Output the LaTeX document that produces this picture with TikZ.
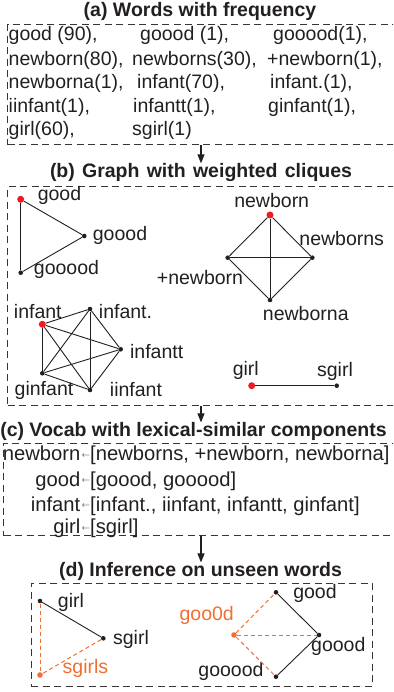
\documentclass[tikz,border=0pt]{standalone}
\usepackage{fontspec}
\setmainfont{Liberation Sans}
\usetikzlibrary{arrows.meta}
\definecolor{dotred}{RGB}{237,28,36}
\definecolor{infor}{RGB}{240,110,50}
\definecolor{ink}{RGB}{35,31,32}
\begin{document}
\begin{tikzpicture}[x=1pt,y=-1pt,
  title/.style={font=\fontsize{19.5}{23}\selectfont\bfseries, inner sep=0, text=ink},
  lbl/.style={font=\fontsize{19.5}{23}\selectfont, inner sep=0, text=ink},
  clbl/.style={font=\fontsize{20.2}{24}\selectfont, inner sep=0, text=ink},
  olbl/.style={lbl, text=infor},
  box/.style={draw=ink!90, line width=1.1pt, dash pattern=on 7pt off 4.5pt, anchor=north west, inner sep=0},
  rdot/.style={circle, fill=dotred, inner sep=0, minimum size=7pt},
  bdot/.style={circle, fill=ink, inner sep=0, minimum size=4.6pt},
  odot/.style={circle, fill=infor, inner sep=0, minimum size=5.6pt},
  edge/.style={line width=0.9pt, draw=ink},
  oedge/.style={line width=1pt, draw=infor, dash pattern=on 4pt off 3pt},
  flow/.style={line width=1.1pt, draw=ink, -{Triangle[width=7pt,length=9pt]}}]
\useasboundingbox (0,0) rectangle (393,692);
\clip (0,0) rectangle (393,692);
\newcommand{\larr}{\hspace{1pt}\raisebox{3.5pt}{\fontsize{8.5}{8.5}\selectfont$\leftarrow$}}

% ---------- (a) ----------
\node[title] (ta) at (200,11) {(a) Words with frequency};
\node[box, minimum width=389pt, minimum height=119.7pt] (boxa) at (7,24.3) {};
\node[lbl, anchor=west] (a11) at (8.5,35) {good (90),};
\node[lbl, anchor=west] (a12) at (140,35) {goood (1),};
\node[lbl, anchor=west] (a13) at (273,35) {gooood(1),};
\node[lbl, anchor=west] (a21) at (8.5,60) {newborn(80),};
\node[lbl, anchor=west] (a22) at (132,60) {newborns(30),};
\node[lbl, anchor=west] (a23) at (267,60) {+newborn(1),};
\node[lbl, anchor=west] (a31) at (8.5,83) {newborna(1),};
\node[lbl, anchor=west] (a32) at (137,83) {infant(70),};
\node[lbl, anchor=west] (a33) at (270,83) {infant.(1),};
\node[lbl, anchor=west] (a41) at (8.5,107) {iinfant(1),};
\node[lbl, anchor=west] (a42) at (133,107) {infantt(1),};
\node[lbl, anchor=west] (a43) at (268,107) {ginfant(1),};
\node[lbl, anchor=west] (a51) at (8.5,130) {girl(60),};
\node[lbl, anchor=west] (a52) at (132,130) {sgirl(1)};

% ---------- (b) ----------
\node[title] (tb) at (201,172.7) {\makebox[302pt][s]{(b) Graph with weighted cliques}};
\node[box, minimum width=389pt, minimum height=219pt] (boxb) at (7,186) {};

\node[rdot] (good) at (20.7,199.3) {};
\node[bdot] (goood) at (84.3,236) {};
\node[bdot] (gooood) at (20.7,272.7) {};
\node[lbl] (lgood) at (59.5,195) {good};
\node[lbl] (lgoood) at (120,235) {goood};
\node[lbl] (lgooood) at (66.5,269) {gooood};
\draw[edge] (good) -- (goood);
\draw[edge] (good) -- (gooood);
\draw[edge] (goood) -- (gooood);

\node[rdot] (nb) at (270,215) {};
\node[bdot] (nbs) at (312.3,257.7) {};
\node[bdot] (pnb) at (227.7,257.7) {};
\node[bdot] (nba) at (270,300) {};
\node[lbl] (lnb) at (271.7,200.7) {newborn};
\node[lbl] (lnbs) at (341.7,238.3) {newborns};
\node[lbl] (lpnb) at (200,277.3) {+newborn};
\node[lbl] (lnba) at (305.8,314) {newborna};
\draw[edge] (nb) -- (nbs);
\draw[edge] (nb) -- (pnb);
\draw[edge] (nb) -- (nba);
\draw[edge] (nbs) -- (pnb);
\draw[edge] (nbs) -- (nba);
\draw[edge] (pnb) -- (nba);

\node[rdot] (inf) at (42.3,324.3) {};
\node[bdot] (infd) at (90,309) {};
\node[bdot] (inftt) at (120.7,349.3) {};
\node[bdot] (ginf) at (42.3,373.3) {};
\node[bdot] (iinf) at (90,390) {};
\node[lbl] (linf) at (37.8,311.7) {infant};
\node[lbl] (linfd) at (125.5,311.7) {infant.};
\node[lbl] (linftt) at (156.7,351.7) {infantt};
\node[lbl] (lginf) at (44,390) {ginfant};
\node[lbl] (liinf) at (136,390) {iinfant};
\foreach \u/\v in {inf/infd, inf/inftt, inf/ginf, inf/iinf, infd/inftt, infd/ginf, infd/iinf, inftt/ginf, inftt/iinf, ginf/iinf}
  \draw[edge] (\u) -- (\v);

\node[rdot] (girl) at (251.7,385.7) {};
\node[bdot] (sgirl) at (336.7,385.7) {};
\node[lbl] (lgirl) at (245.8,370) {girl};
\node[lbl] (lsgirl) at (335,371.7) {sgirl};
\draw[edge] (girl) -- (sgirl);

% ---------- (c) ----------
\node[title] (tc) at (193.5,431.7) {(c) Vocab with lexical-similar components};
\node[box, minimum width=393pt, minimum height=92.3pt] (boxc) at (3,442.7) {};
\node[clbl, anchor=base east] (c1w) at (80.5,460.5) {newborn};
\node[clbl, anchor=base west] (c1l) at (80.5,460.5) {\larr[newborns, +newborn, newborna]};
\node[clbl, anchor=base east] (c2w) at (80.5,486) {good};
\node[clbl, anchor=base west] (c2l) at (80.5,486) {\larr[goood, gooood]};
\node[clbl, anchor=base east] (c3w) at (80.5,511) {infant};
\node[clbl, anchor=base west] (c3l) at (80.5,511) {\larr[infant., iinfant, infantt, ginfant]};
\node[clbl, anchor=base east] (c4w) at (80.5,533.5) {girl};
\node[clbl, anchor=base west] (c4l) at (80.5,533.5) {\larr[sgirl]};

% ---------- (d) ----------
\node[title] (td) at (200.5,571.7) {(d) Inference on unseen words};
\node[box, minimum width=341pt, minimum height=103pt] (boxd) at (30.7,582.7) {};

\node[bdot] (dgirl) at (40,601) {};
\node[bdot] (dsgirl) at (103.3,638.3) {};
\node[odot] (dsgirls) at (40,675) {};
\node[lbl] (ldgirl) at (71,602.7) {girl};
\node[lbl] (ldsgirl) at (131,639.3) {sgirl};
\node[olbl] (ldsgirls) at (85.5,668.3) {sgirls};
\draw[edge] (dgirl) -- (dsgirl);
\draw[oedge] (dgirl) -- (dsgirls);
\draw[oedge] (dsgirl) -- (dsgirls);

\node[bdot] (dgood) at (276,592.3) {};
\node[bdot] (dgoood) at (319,635) {};
\node[bdot] (dgooood) at (276,676.7) {};
\node[odot] (dgoo) at (234,635) {};
\node[lbl] (ldgood) at (315,593.3) {good};
\node[lbl] (ldgoood) at (338.3,646) {goood};
\node[lbl] (ldgooood) at (231,671.7) {gooood};
\node[olbl] (ldgoo) at (206.7,615) {goo0d};
\draw[edge] (dgood) -- (dgoood);
\draw[edge] (dgoood) -- (dgooood);
\draw[oedge] (dgoo) -- (dgood);
\draw[oedge] (dgoo) -- (dgoood);
\draw[oedge] (dgoo) -- (dgooood);

% ---------- flow arrows ----------
\draw[flow] (boxa.south -| tb.north) -- (tb.north);
\draw[flow] (boxb.south -| tb.north) -- (tc.north -| tb.north);
\draw[flow] (boxc.south -| tb.north) -- (td.north -| tb.north);
\end{tikzpicture}
\end{document}
